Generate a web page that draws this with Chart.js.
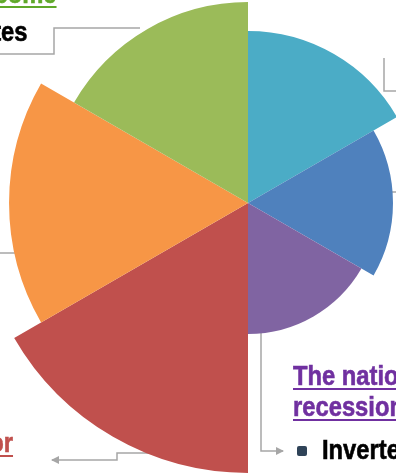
<!DOCTYPE html>
<html>
<head>
<meta charset="utf-8">
<script src="https://cdn.jsdelivr.net/npm/chart.js@4/dist/chart.umd.min.js"></script>
<style>
  html, body { margin: 0; padding: 0; background: #fff; }
  #wrap { position: relative; width: 396px; height: 474px; overflow: hidden; background: #fff; }
  #lines { position: absolute; left: 0; top: 0; z-index: 1; }
  #polar { position: absolute; left: -22px; top: -67px; z-index: 2; }
  .lbl { position: absolute; z-index: 3; font-family: "Liberation Sans", Arial, sans-serif; font-weight: bold; font-size: 27px; line-height: 31px; white-space: nowrap; -webkit-text-stroke: 0.6px currentColor; }
  .l { transform: scaleX(0.88); transform-origin: left top; }
  .r { transform: scaleX(0.88); transform-origin: right top; }
  .ul { text-decoration: underline; text-decoration-thickness: 2px; text-underline-offset: 3px; }
</style>
</head>
<body>
<div id="wrap">
  <svg id="lines" width="396" height="474">
    <defs>
      <marker id="arr" markerWidth="8" markerHeight="8" refX="7" refY="4" orient="auto" markerUnits="userSpaceOnUse">
        <path d="M0,0 L8,4 L0,8 z" fill="#a6a6a6"/>
      </marker>
    </defs>
    <g fill="none" stroke="#a6a6a6" stroke-width="1.5">
      <polyline points="0,54 54,54 54,28 140,28"/>
      <polyline points="384,58 384,91 396,91"/>
      <polyline points="386,192 396,192"/>
      <polyline points="0,253 16,253"/>
      <polyline points="261,330 261,451 283,451" marker-end="url(#arr)"/>
      <polyline points="248,453 117,453 117,460 52,460" marker-end="url(#arr)"/>
    </g>
  </svg>
  <canvas id="polar" width="540" height="540"></canvas>

  <div class="lbl ul r" style="right:339px; top:-21px; color:#5fa829;">Income</div>
  <div class="lbl r" style="right:368px; top:17px; color:#000;">Rates</div>
  <div class="lbl ul l" style="left:293px; top:361px; color:#7030a0;">The national<br>recession</div>
  <div style="position:absolute; z-index:3; left:297px; top:446px; width:10px; height:10px; border-radius:2px; background:#2f4358;"></div>
  <div class="lbl l" style="left:322px; top:435px; color:#000;">Inverted yield</div>
  <div class="lbl ul r" style="right:383px; top:428px; color:#c0504d;">Labor</div>
</div>
<script>
var categories = ['Teal', 'Blue', 'Purple', 'Red', 'Orange', 'Green'];
var values = [63.7, 53.7, 48.5, 100, 88.5, 74.4];
var colors = ['#4bacc6', '#4f81bd', '#8064a2', '#c0504d', '#f79646', '#9bbb59'];

new Chart(document.getElementById('polar'), {
    type: 'polarArea',
    data: { labels: categories, datasets: [{ data: values, backgroundColor: colors, borderWidth: 0 }] },
    options: {
        responsive: false, animation: false,
        layout: { padding: 0 },
        plugins: { legend: { display: false }, tooltip: { enabled: false } },
        scales: {
            r: {
                min: 0, max: 100,
                ticks: { display: false },
                grid: { display: false },
                angleLines: { display: false },
                pointLabels: { display: false }
            }
        }
    }
});
</script>
</body>
</html>
